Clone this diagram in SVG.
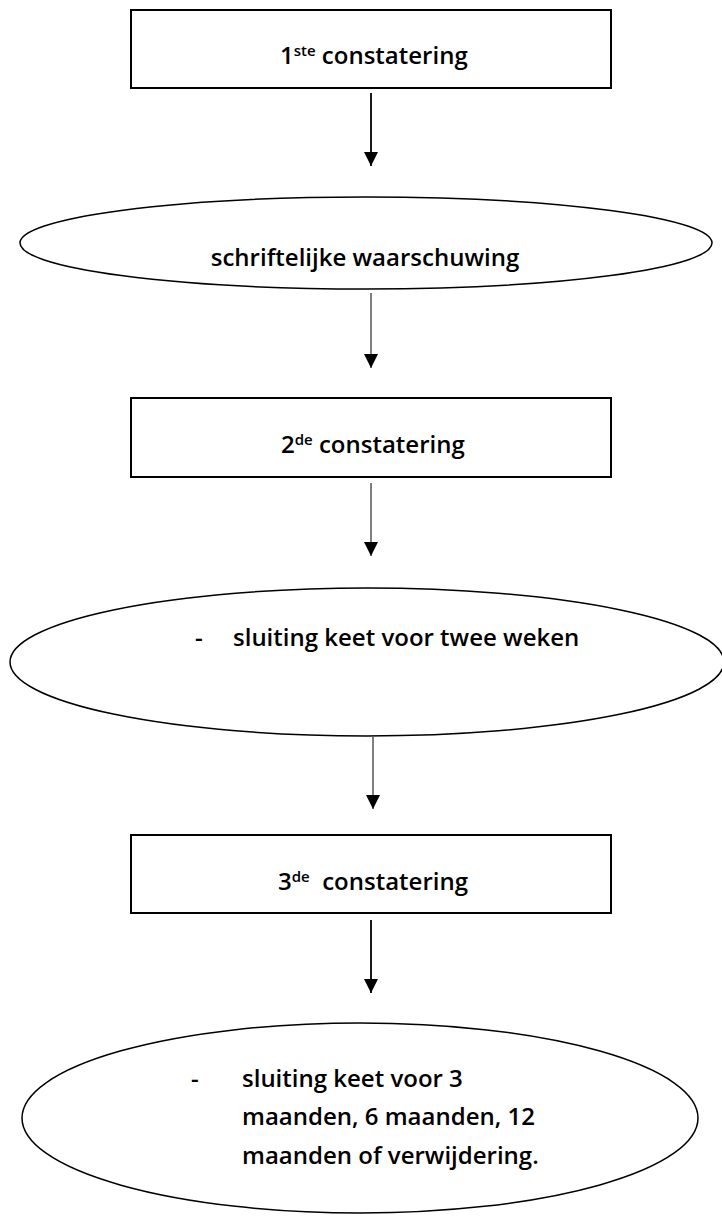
<svg xmlns="http://www.w3.org/2000/svg" width="722" height="1216" viewBox="0 0 722 1216">
<defs>
<marker id="ah" viewBox="0 0 10 10" refX="10" refY="5" markerWidth="14" markerHeight="14" markerUnits="userSpaceOnUse" orient="auto"><path d="M0,0 L10,5 L0,10 z" fill="#000"/></marker>
<style>
.box{fill:#fff;stroke:#000;stroke-width:2}
.ell{fill:#fff;stroke:#000;stroke-width:1.5}
.t{font-family:"Open Sans","DejaVu Sans",sans-serif;font-weight:600;font-size:24px;fill:#000}
.sup{font-size:15px}
.c1{stroke:#000;stroke-width:1.8;fill:none}
.c2{stroke:#000;stroke-width:1;fill:none}
</style>
</defs>
<rect width="722" height="1216" fill="#fff"/>
<g id="connectors">
<line class="c1" x1="371" y1="93" x2="371" y2="166" marker-end="url(#ah)"/>
<line class="c2" x1="371" y1="293" x2="371" y2="368" marker-end="url(#ah)"/>
<line class="c2" x1="371" y1="483" x2="371" y2="556" marker-end="url(#ah)"/>
<line class="c2" x1="373" y1="737" x2="373" y2="809" marker-end="url(#ah)"/>
<line class="c1" x1="371" y1="920" x2="371" y2="993" marker-end="url(#ah)"/>
</g>
<g id="n1">
<rect class="box" x="131" y="10" width="480" height="78"/>
<text class="t" x="280" y="64">1<tspan class="sup" dy="-8">ste</tspan><tspan dy="8"> constatering</tspan></text>
</g>
<g id="n2">
<ellipse class="ell" cx="366" cy="243" rx="346" ry="46"/>
<text class="t" x="365" y="266" text-anchor="middle">schriftelijke waarschuwing</text>
</g>
<g id="n3">
<rect class="box" x="131" y="398" width="480" height="79"/>
<text class="t" x="281" y="453">2<tspan class="sup" dy="-8">de</tspan><tspan dy="8"> constatering</tspan></text>
</g>
<g id="n4">
<ellipse class="ell" cx="367" cy="662" rx="357" ry="74"/>
<text class="t" x="195" y="646">-</text>
<text class="t" x="233" y="646">sluiting keet voor twee weken</text>
</g>
<g id="n5">
<rect class="box" x="131" y="835" width="480" height="78"/>
<text class="t" x="278" y="890">3<tspan class="sup" dy="-8">de</tspan><tspan dy="8" xml:space="preserve">  constatering</tspan></text>
</g>
<g id="n6">
<ellipse class="ell" cx="360" cy="1118" rx="338" ry="95"/>
<text class="t" x="191" y="1087">-</text>
<text class="t" x="242" y="1087">sluiting keet voor 3</text>
<text class="t" x="242" y="1125">maanden, 6 maanden, 12</text>
<text class="t" x="242" y="1164">maanden of verwijdering.</text>
</g>
</svg>
